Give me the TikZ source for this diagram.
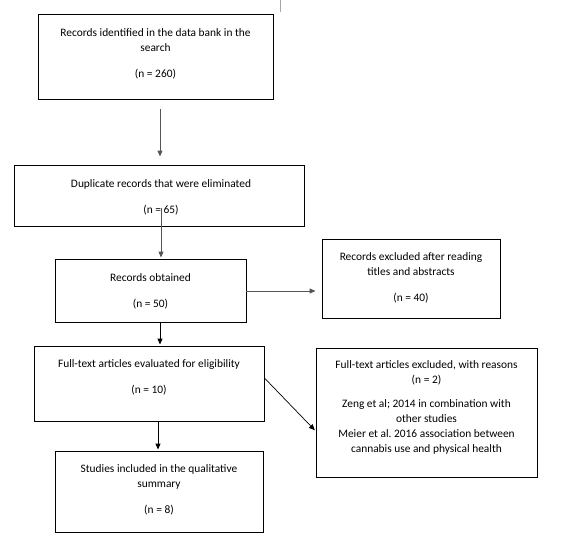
\documentclass[tikz,border=0pt]{standalone}
\usepackage{fontspec}
\setmainfont{Carlito}
\usetikzlibrary{arrows.meta,calc}
\definecolor{arrgray}{RGB}{85,85,85}
\frenchspacing
\begin{document}
\begin{tikzpicture}[x=1pt,y=-1pt,
  box/.style={draw=black, line width=0.9pt, rectangle, inner sep=0pt},
  txt/.style={inner sep=0pt, anchor=north, align=center, font=\fontsize{11.4}{15}\selectfont},
  arr/.style={line width=0.9pt, -{Triangle[length=6pt,width=5pt]}},
]
\useasboundingbox (0,0) rectangle (567,551);
% boxes
\node[box, minimum width=235pt, minimum height=85pt] (b1) at (155.5,56.5) {};
\node[box, minimum width=290pt, minimum height=61pt] (b2) at (159,195.5) {};
\node[box, minimum width=191pt, minimum height=63pt] (b3) at (150.5,290.5) {};
\node[box, minimum width=178pt, minimum height=79pt] (r1) at (411,278.5) {};
\node[box, minimum width=230pt, minimum height=75pt] (b4) at (149,383.5) {};
\node[box, minimum width=221pt, minimum height=129pt] (r2) at (426.5,412.5) {};
\node[box, minimum width=208pt, minimum height=81pt] (b5) at (159,491.5) {};
% texts
\node[txt] (t1) at (155.5,26) {\strut Records identified in the data bank in the\\search\\[11pt](n = 260)};
\node[txt] (t2) at (161,177) {\strut Duplicate records that were eliminated\\[11pt](n = 65)};
\node[txt] (t3) at (150.5,270.5) {\strut Records obtained\\[11pt](n = 50)};
\node[txt] (tr1) at (411,250) {\strut Records excluded after reading\\titles and abstracts\\[11pt](n = 40)};
\node[txt] (t4) at (149,357) {\strut Full-text articles evaluated for eligibility\\[11pt](n = 10)};
\node[txt] (tr2) at (426.5,358) {\strut Full-text articles excluded, with reasons\\(n = 2)\\[9pt]Zeng et al; 2014 in combination with\\other studies\\Meier et al. 2016 association between\\cannabis use and physical health};
\node[txt] (t5) at (159,462) {\strut Studies included in the qualitative\\summary\\[11pt](n = 8)};
% connector columns
\coordinate (cx) at (160,0);
\coordinate (cx2) at (161,0);
\coordinate (cx4) at (158,0);
\coordinate (hy) at (0,291);
\coordinate (dy1) at (0,378);
\coordinate (dy2) at (0,431);
\draw[arr, arrgray, shorten <=10pt, shorten >=8pt] (b1.south -| cx) -- (b2.north -| cx);
\draw[arr, arrgray, shorten <=-18pt, shorten >=1pt] (b2.south -| cx2) -- (b3.north -| cx2);
\draw[arr, shorten >=1pt] (b3.south -| cx) -- (b4.north -| cx);
\draw[arr, shorten >=1pt] (b4.south -| cx4) -- (b5.north -| cx4);
\draw[arr, arrgray, shorten >=6pt] (b3.east |- hy) -- (r1.west |- hy);
\draw[arr, line width=0.7pt, shorten >=1pt] (b4.east |- dy1) -- (r2.west |- dy2);
% stray mark at top
\draw[gray!70, line width=0.8pt] (280.5,0) -- (280.5,12);
\end{tikzpicture}
\end{document}
